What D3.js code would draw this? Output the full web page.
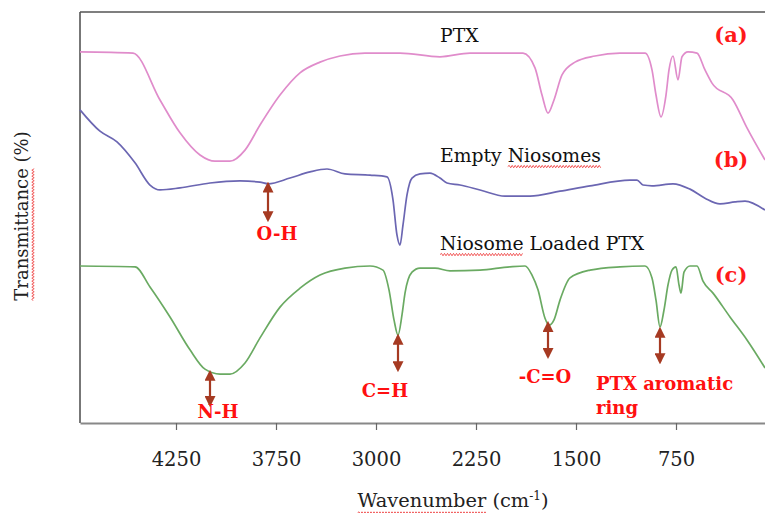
<!DOCTYPE html>
<html><head><meta charset="utf-8">
<script src="https://cdn.jsdelivr.net/npm/d3@7"></script>
<style>body{margin:0;background:#fff}svg{display:block}</style>
</head><body><svg id="c" width="765" height="513"></svg>
<script>
// ---- data (wavenumber, cm-1 ; transmittance, arbitrary offset %) ----
const tickLabels = [4250, 3750, 3000, 2250, 1500, 750];
const axisBreaks = [4730, 4250, 3750, 3000, 82.5];

const ptxWn = [4730,4465,4330,4230,4130,4055,3980,3905,3830,3720,3570,3420,3270,3082.5,2820,2520,2295,1897.5,1807.5,1755,1710,1665,1605,1507.5,1357.5,1170,982.5,930,900,862.5,825,802.5,772.5,735,705,660,592.5,532.5,480,322.5,217.5,82.5];
const ptxT  = [90.3,90.0,78.6,70.6,65.2,63.7,63.7,66.4,72.5,79.8,85.2,87.8,89.3,90.0,90.0,89.1,90.0,90.0,86.4,79.8,75.4,78.6,84.7,87.8,89.3,90.0,90.0,85.9,79.8,74.5,79.8,85.9,89.3,83.5,89.1,90.3,90.0,85.9,82.7,78.6,71.8,64.0];

const emptyWn = [4730,4630,4545,4455,4380,4330,4230,4080,3930,3830,3790,3645,3495,3367.5,3232.5,3045,2917.5,2872.5,2842.5,2820,2797.5,2767.5,2730,2670,2595,2520,2467.5,2370,2220,2032.5,1845,1620,1395,1095,1042.5,997.5,930,772.5,645,532.5,420,307.5,232.5,82.5];
const emptyT  = [76.2,71.0,68.4,63.3,57.9,56.7,57.2,58.4,58.9,58.6,58.2,59.6,61.1,61.8,60.6,60.3,59.9,54.3,45.7,43.3,48.2,55.5,59.6,60.6,60.8,59.6,58.4,57.9,56.7,55.2,55.2,56.4,57.7,59.1,59.1,57.9,57.7,58.2,56.9,54.7,53.3,53.8,54.0,51.8];

const loadedWn = [4730,4455,4380,4280,4180,4105,4030,3980,3905,3830,3720,3570,3420,3232.5,3045,2947.5,2902.5,2865,2835,2805,2782.5,2730,2670,2557.5,2445,2220,1995,1882.5,1830,1785,1732.5,1702.5,1665,1620,1545,1395,1170,982.5,930,900,870,840,810,780,750,727.5,712.5,690,645,592.5,547.5,472.5,345,217.5,82.5];
const loadedT  = [38.2,38.0,33.1,25.8,17.8,13.1,11.9,11.9,14.6,20.7,28.2,32.8,36.0,37.7,38.2,37.2,32.4,25.1,21.4,26.3,31.6,36.7,37.7,37.7,37.0,37.2,38.0,38.2,36.0,32.4,25.5,23.8,25.1,29.9,35.3,37.2,38.0,38.2,35.3,29.9,23.4,27.5,33.6,37.2,38.0,33.6,31.6,36.7,38.2,38.2,34.5,31.6,25.8,20.2,13.4];

const seriesNames = ["PTX", "Empty Niosomes", "Niosome Loaded PTX"];
const seriesTags = ["(a)", "(b)", "(c)"];

const annoLabels = ["O-H", "N-H", "C=H", "-C=O", "PTX aromatic|ring"];
const annoWn     = [3790, 4080, 2835, 1710, 870];
const annoTop    = [58.2, 12.4, 21.2, 24.3, 22.9];
const annoBottom = [49.4, 4.4, 12.9, 16.1, 14.8];

// ---- layout ----
const svg = d3.select("#c");
const L = 80, R = 765, T = 12, B = 423;
const x = d3.scaleLinear().domain(axisBreaks).range([L, 176, 276, 376, R]);
const y = d3.scaleLinear().domain([0, 100]).range([B, T]);
const serif = "'DejaVu Serif', 'Liberation Serif', serif";

function wavy(g, x0, x1, yy) {
  let d = `M${x0},${yy}`;
  let up = true;
  for (let xx = x0 + 1.5; xx <= x1; xx += 1.5) { d += `L${xx},${yy + (up ? -1.2 : 1.2)}`; up = !up; }
  g.append("path").attr("d", d).attr("fill", "none").attr("stroke", "#ee3333").attr("stroke-width", 0.8);
}

// frame
svg.append("line").attr("x1", L).attr("x2", R).attr("y1", T).attr("y2", T).attr("stroke", "#555").attr("stroke-width", 1.6);
svg.append("line").attr("x1", L).attr("x2", L).attr("y1", T).attr("y2", B).attr("stroke", "#555").attr("stroke-width", 1.6);

// x axis
const ax = svg.append("g").attr("transform", `translate(0,${B})`)
  .call(d3.axisBottom(x).tickValues(tickLabels).tickFormat(d3.format("d")).tickSize(7).tickPadding(22).tickSizeOuter(0));
ax.select(".domain").attr("stroke", "#888").attr("stroke-width", 1.8);
ax.selectAll(".tick line").attr("stroke", "#666").attr("stroke-width", 1.2);
ax.selectAll(".tick text").attr("font-family", serif).attr("font-size", 19.5).attr("fill", "#222");

// lines
const colors = ["#e08ccb", "#6b66b2", "#6aaa62"];
const allWn = [ptxWn, emptyWn, loadedWn], allT = [ptxT, emptyT, loadedT];
const line = d3.line().x(d => x(d[0])).y(d => y(d[1])).curve(d3.curveMonotoneX);
allWn.forEach((wn, i) => {
  const pts = wn.map((w, j) => [w, allT[i][j]]);
  svg.append("path").attr("d", line(pts)).attr("fill", "none").attr("stroke", colors[i]).attr("stroke-width", 1.7);
});

// series names
const nameY = [35, 155, 243];
seriesNames.forEach((n, i) => {
  const g = svg.append("g");
  const t = g.append("text").attr("x", 440).attr("y", nameY[i]).attr("dy", "0.35em")
    .attr("font-family", serif).attr("font-size", 18.8).attr("fill", "#111");
  const words = n.split(" ");
  const ts = words.map((w, k) => t.append("tspan").text((k ? " " : "") + w));
  const wi = i === 1 ? 1 : (i === 2 ? 0 : -1);
  if (wi >= 0) {
    const b = ts[wi].node().getBBox();
    const off = wi > 0 ? 6 : 0;
    wavy(g, b.x + off, b.x + b.width, b.y + b.height + 1);
  }
});
const tagY = [35, 160, 275];
seriesTags.forEach((s, i) => {
  svg.append("text").attr("x", 731).attr("y", tagY[i]).attr("dy", "0.35em").attr("text-anchor", "middle")
    .attr("font-family", serif).attr("font-weight", "bold").attr("font-size", 21).attr("fill", "#ff1a1a").text(s);
});

// annotation arrows
const arrowC = "#a63a22";
const defs = svg.append("defs");
defs.append("marker").attr("id", "ah").attr("viewBox", "0 0 10 10").attr("refX", 8).attr("refY", 5)
  .attr("markerWidth", 5).attr("markerHeight", 5).attr("orient", "auto-start-reverse")
  .append("path").attr("d", "M0,0L10,5L0,10z").attr("fill", arrowC);
const labOff = [[9, 20], [8, 13], [-13, 27], [-3, 26], [-64, 28]];
annoLabels.forEach((lab, i) => {
  const px = x(annoWn[i]);
  svg.append("line").attr("x1", px).attr("x2", px).attr("y1", y(annoTop[i])).attr("y2", y(annoBottom[i]))
    .attr("stroke", arrowC).attr("stroke-width", 2.2)
    .attr("marker-start", "url(#ah)").attr("marker-end", "url(#ah)");
  const parts = lab.split("|");
  const t = svg.append("text").attr("font-family", serif).attr("font-weight", "bold").attr("font-size", 18)
    .attr("fill", "#ff1010").attr("text-anchor", parts.length > 1 ? "start" : "middle");
  parts.forEach((p, k) => {
    t.append("tspan").attr("x", px + labOff[i][0]).attr("y", y(annoBottom[i]) + labOff[i][1] + k * 24).text(p);
  });
});

// axis titles
{
  const g = svg.append("g");
  const t = g.append("text").attr("x", 453).attr("y", 507).attr("text-anchor", "middle")
    .attr("font-family", serif).attr("font-size", 19.4).attr("fill", "#222");
  const w = t.append("tspan").text("Wavenumber");
  t.append("tspan").text(" (cm");
  t.append("tspan").attr("font-size", 12).attr("dy", -7).text("-1");
  t.append("tspan").attr("dy", 7).text(")");
  const b = w.node().getBBox();
  wavy(g, b.x, b.x + b.width, b.y + b.height + 1);
}
{
  const g = svg.append("g").attr("transform", "translate(28,216) rotate(-90)");
  const t = g.append("text").attr("x", 0).attr("y", 0).attr("text-anchor", "middle")
    .attr("font-family", serif).attr("font-size", 18).attr("fill", "#222");
  const w = t.append("tspan").text("Transmittance");
  t.append("tspan").text(" (%)");
  const b = w.node().getBBox();
  wavy(g, b.x, b.x + b.width, b.y + b.height + 1);
}
</script>
</body></html>
